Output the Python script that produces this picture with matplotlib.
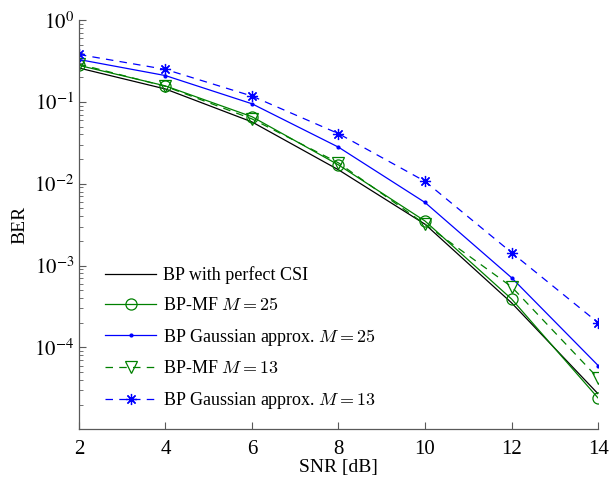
import matplotlib
matplotlib.use("Agg")
import matplotlib.pyplot as plt

plt.rcParams['font.family'] = ['Liberation Serif', 'DejaVu Serif']
plt.rcParams['mathtext.fontset'] = 'stix'

snr = [2, 4, 6, 8, 10, 12, 14]

ber_perfect = [0.26, 0.144, 0.057, 0.0148, 0.0032, 3.5e-4, 2.7e-5]
ber_mf25 = [0.28, 0.157, 0.066, 0.017, 0.0035, 3.9e-4, 2.4e-5]
ber_gauss25 = [0.33, 0.21, 0.095, 0.028, 0.0059, 7.1e-4, 6.0e-5]
ber_mf13 = [0.29, 0.155, 0.062, 0.018, 0.0032, 5.5e-4, 4.2e-5]
ber_gauss13 = [0.38, 0.25, 0.118, 0.041, 0.0107, 1.44e-3, 2.0e-4]

labels = ["BP with perfect CSI",
          "BP-MF $M = 25$",
          "BP Gaussian approx. $M = 25$",
          "BP-MF $M = 13$",
          "BP Gaussian approx. $M = 13$"]

ytick_vals = [1, 1e-1, 1e-2, 1e-3, 1e-4]
ytick_labels = ['$10^{0}$', '$10^{-1}$', '$10^{-2}$', '$10^{-3}$', '$10^{-4}$']

green = (0, 0.5, 0)
blue = (0, 0, 1)

fig = plt.figure(figsize=(6.16, 4.79), dpi=100)
ax = fig.add_axes([0.128, 0.104, 0.843, 0.854])

ax.semilogy(snr, ber_perfect, color='k', lw=0.9, label=labels[0])
ax.semilogy(snr, ber_mf25, color=green, lw=0.9, marker='o', ms=8,
            mfc='none', mew=0.9, label=labels[1])
ax.semilogy(snr, ber_gauss25, color=blue, lw=0.9, marker='.', ms=4,
            label=labels[2])
ax.semilogy(snr, ber_mf13, color=green, lw=0.9, ls='--', dashes=(6, 5),
            marker='v', ms=8, mfc='none', mew=0.9, label=labels[3])
ax.semilogy(snr, ber_gauss13, color=blue, lw=0.9, ls='--', dashes=(6, 5),
            marker=(8, 2, 0), ms=8, mew=0.9, label=labels[4])

ax.set_xlim(2, 14)
ax.set_ylim(1e-5, 1)
ax.set_xticks(snr)
ax.set_yticks(ytick_vals)
ax.set_yticklabels(ytick_labels)

for side in ['top', 'right']:
    ax.spines[side].set_visible(False)
for side in ['left', 'bottom']:
    ax.spines[side].set_color('0.35')
    ax.spines[side].set_linewidth(0.9)

ax.tick_params(which='both', direction='in', colors='0.35', labelcolor='k',
               labelsize=15)
ax.tick_params(which='major', length=5)
ax.tick_params(which='minor', length=3)
ax.tick_params(axis='x', pad=8)

ax.set_xlabel("SNR [dB]", fontsize=14, labelpad=0)
ax.set_ylabel("BER", fontsize=14, labelpad=4)

leg = ax.legend(loc='lower left', bbox_to_anchor=(0.02, 0.005), frameon=False,
                fontsize=13, handlelength=2.8, labelspacing=0.7,
                handletextpad=0.4)
for t in leg.get_texts():
    t.set_math_fontfamily('cm')

fig.savefig("out.png", dpi=100)
